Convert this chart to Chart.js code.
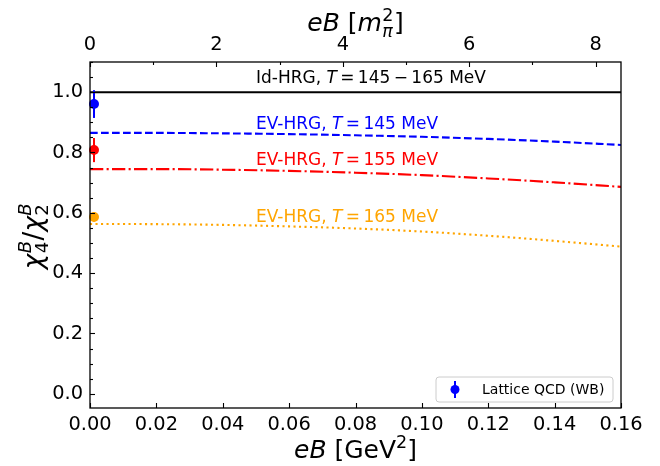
<!DOCTYPE html>
<html><head><meta charset="utf-8">
<script src="https://cdn.jsdelivr.net/npm/chart.js@4/dist/chart.umd.min.js"></script>
<style>html,body{margin:0;padding:0;background:#fff;}#wrap{width:660px;height:466px;}</style>
</head><body><div id="wrap"><canvas id="c" width="660" height="466"></canvas></div>
<script>
// ---- data ----
const eB = [0, 0.02, 0.04, 0.06, 0.08, 0.10, 0.12, 0.14, 0.16];          // GeV^2
const idHRG  = [1, 1, 1, 1, 1, 1, 1, 1, 1];
const evT145 = [0.865, 0.865, 0.8635, 0.861, 0.857, 0.852, 0.845, 0.836, 0.825];
const evT155 = [0.745, 0.745, 0.743, 0.739, 0.733, 0.725, 0.714, 0.701, 0.686];
const evT165 = [0.563, 0.5625, 0.560, 0.555, 0.548, 0.538, 0.524, 0.507, 0.488];
const latticeEB    = [0.0012, 0.0012, 0.0012];
const latticeRatio = [0.9605, 0.808, 0.586];
const latticeErr   = [0.046, 0.040, 0.015];
const mPi2 = 0.138 * 0.138;   // GeV^2, for the top axis
const seriesLabels = ['Id-HRG', 'EV-HRG', 'EV-HRG', 'EV-HRG'];
const seriesTemps  = ['145\u2009\u2212\u2009165', '145', '155', '165'];
const latticeLabel = 'Lattice QCD (WB)';

// ---- styles ----
const FAM = '"DejaVu Sans"';
const latticeColors = ['#0000ff', '#ff0000', '#ffa500'];
const lineColors = ['#000000', '#0000ff', '#ff0000', '#ffa500'];

const pts = (xs, ys) => xs.map((x, i) => ({x, y: ys[i]}));

function segFont(size, it) { return (it ? 'italic ' : '') + size + 'px ' + FAM; }
function segWidth(ctx, s, size) {
  if (s.t !== undefined) { ctx.font = segFont(size * (s.k || 1), s.it); return ctx.measureText(s.t).width; }
  const ss = size * 0.7; let w = 0;
  if (s.sup) { ctx.font = segFont(ss, s.supIt); w = Math.max(w, ctx.measureText(s.sup).width); }
  if (s.sub) { ctx.font = segFont(ss, s.subIt); w = Math.max(w, ctx.measureText(s.sub).width); }
  return w + 1;
}
function drawRich(ctx, segs, x, y, size, color, align) {
  let total = 0; segs.forEach(s => total += segWidth(ctx, s, size));
  let cx = align === 'center' ? x - total / 2 : x;
  ctx.fillStyle = color; ctx.textBaseline = 'alphabetic'; ctx.textAlign = 'left';
  segs.forEach(s => {
    const w = segWidth(ctx, s, size);
    if (s.t !== undefined) {
      ctx.font = segFont(size * (s.k || 1), s.it);
      ctx.fillText(s.t, cx, y + (s.dy || 0) * size);
    } else {
      const ss = size * 0.7;
      if (s.sup) { ctx.font = segFont(ss, s.supIt); ctx.fillText(s.sup, cx + 0.5, y - 0.42 * size); }
      if (s.sub) { ctx.font = segFont(ss, s.subIt); ctx.fillText(s.sub, cx + 0.5, y + 0.22 * size); }
    }
    cx += w;
  });
}

const decor = {
  id: 'decor',
  beforeDatasetDraw(chart, args) {
    if (args.index !== 0) return;
    const ctx = chart.ctx, xs = chart.scales.x, ys = chart.scales.y;
    ctx.save(); ctx.lineWidth = 2;
    latticeEB.forEach((x, i) => {
      const px = xs.getPixelForValue(x);
      ctx.strokeStyle = latticeColors[i];
      ctx.beginPath();
      ctx.moveTo(px, ys.getPixelForValue(latticeRatio[i] + latticeErr[i]));
      ctx.lineTo(px, ys.getPixelForValue(latticeRatio[i] - latticeErr[i]));
      ctx.stroke();
    });
    ctx.restore();
  },
  afterDraw(chart) {
    const ctx = chart.ctx, ca = chart.chartArea;
    const xs = chart.scales.x, ys = chart.scales.y, xt = chart.scales.x2;
    ctx.save();
    // frame
    ctx.strokeStyle = '#000'; ctx.lineWidth = 1.3;
    ctx.strokeRect(ca.left, ca.top, ca.right - ca.left, ca.bottom - ca.top);
    ctx.lineWidth = 1.1;
    const MAJ = 5, MIN = 3;
    // y ticks (inward)
    for (let k = 0; k <= 22; k++) {
      const v = k * 0.05; if (v > ys.max + 1e-9) break;
      const py = Math.round(ys.getPixelForValue(v)) + 0.5;
      const len = (k % 4 === 0) ? MAJ : MIN;
      ctx.beginPath(); ctx.moveTo(ca.left, py); ctx.lineTo(ca.left + len, py); ctx.stroke();
    }
    // bottom x ticks
    xs.ticks.forEach(t => {
      const px = Math.round(xs.getPixelForValue(t.value)) + 0.5;
      ctx.beginPath(); ctx.moveTo(px, ca.bottom); ctx.lineTo(px, ca.bottom - MAJ); ctx.stroke();
    });
    // top ticks
    for (let k = 0; k <= Math.floor(xt.max); k++) {
      const px = Math.round(xt.getPixelForValue(k)) + 0.5;
      const len = (k % 2 === 0) ? MAJ : MIN;
      ctx.beginPath(); ctx.moveTo(px, ca.top); ctx.lineTo(px, ca.top + len); ctx.stroke();
    }
    // axis titles
    drawRich(ctx, [{t:'eB', it:true}, {t:' [GeV'}, {t:'2', k:0.7, dy:-0.42}, {t:']'}],
      (ca.left + ca.right) / 2, 458, 25, '#000', 'center');
    drawRich(ctx, [{t:'eB', it:true}, {t:' ['}, {t:'m', it:true}, {sub:'\u03c0', subIt:true, sup:'2'}, {t:']'}],
      (ca.left + ca.right) / 2, 31, 25, '#000', 'center');
    ctx.save(); ctx.translate(42, 236); ctx.rotate(-Math.PI / 2);
    drawRich(ctx, [{t:'\u03c7', it:true}, {sub:'4', sup:'B', supIt:true}, {t:'/'},
                   {t:'\u03c7', it:true}, {sub:'2', sup:'B', supIt:true}], 0, 0, 26, '#000', 'center');
    ctx.restore();
    // annotations
    const annY = [1.030, 0.878, 0.758, 0.570];
    seriesLabels.forEach((lab, i) => {
      drawRich(ctx, [{t: lab + ', '}, {t:'T', it:true}, {t:'\u2009=\u2009' + seriesTemps[i] + ' MeV'}],
        xs.getPixelForValue(0.05), ys.getPixelForValue(annY[i]), 17, lineColors[i], 'left');
    });
    // legend
    const lx = 436, ly = 377, lw = 177, lh = 25;
    ctx.beginPath(); ctx.roundRect(lx, ly, lw, lh, 3);
    ctx.fillStyle = 'rgba(255,255,255,0.8)'; ctx.fill();
    ctx.strokeStyle = '#cccccc'; ctx.lineWidth = 1; ctx.stroke();
    ctx.strokeStyle = latticeColors[0]; ctx.lineWidth = 2;
    ctx.beginPath(); ctx.moveTo(455, ly + 4); ctx.lineTo(455, ly + lh - 4); ctx.stroke();
    ctx.fillStyle = latticeColors[0];
    ctx.beginPath(); ctx.arc(455, ly + lh / 2, 4.5, 0, Math.PI * 2); ctx.fill();
    ctx.fillStyle = '#000'; ctx.font = '14px ' + FAM; ctx.textBaseline = 'middle';
    ctx.fillText(chart.data.datasets[0].label, 482, ly + lh / 2 + 0.5);
    ctx.restore();
  }
};

const tickFont = {family: 'DejaVu Sans', size: 19.4};
new Chart(document.getElementById('c'), {
  type: 'scatter',
  data: {
    datasets: [
      {label: latticeLabel, data: pts(latticeEB, latticeRatio), pointRadius: 5, pointHoverRadius: 5,
       pointBackgroundColor: latticeColors, pointBorderWidth: 0, order: 0, clip: false},
      {label: 'Id-HRG', data: pts(eB, idHRG), showLine: true, pointRadius: 0, borderColor: lineColors[0],
       borderWidth: 2, order: 4},
      {label: 'EV-HRG 145', data: pts(eB, evT145), showLine: true, pointRadius: 0, borderColor: lineColors[1],
       borderWidth: 2.1, borderDash: [7.7, 3.3], cubicInterpolationMode: 'monotone', order: 3},
      {label: 'EV-HRG 155', data: pts(eB, evT155), showLine: true, pointRadius: 0, borderColor: lineColors[2],
       borderWidth: 2.1, borderDash: [13.3, 3.3, 2.1, 3.3], cubicInterpolationMode: 'monotone', order: 2},
      {label: 'EV-HRG 165', data: pts(eB, evT165), showLine: true, pointRadius: 0, borderColor: lineColors[3],
       borderWidth: 2.1, borderDash: [2.1, 3.4], cubicInterpolationMode: 'monotone', order: 1}
    ]
  },
  options: {
    responsive: false, animation: false, devicePixelRatio: 1,
    layout: {padding: {left: 0, right: 39, top: 0, bottom: 0}},
    plugins: {legend: {display: false}, tooltip: {enabled: false}},
    scales: {
      x: {type: 'linear', position: 'bottom', min: 0, max: 0.16,
          grid: {display: false, drawTicks: false}, border: {display: false},
          ticks: {stepSize: 0.02, includeBounds: false, autoSkip: false, maxRotation: 0, padding: 5,
                  color: '#000', font: tickFont, callback: v => v.toFixed(2)},
          afterFit: s => { s.height = 58; }},
      x2: {type: 'linear', position: 'top', min: 0, max: 0.16 / mPi2,
          grid: {display: false, drawTicks: false}, border: {display: false},
          ticks: {stepSize: 2, includeBounds: false, autoSkip: false, maxRotation: 0, padding: 5,
                  color: '#000', font: tickFont, callback: v => v.toFixed(0)},
          afterFit: s => { s.height = 62; }},
      y: {type: 'linear', min: -0.047, max: 1.1,
          grid: {display: false, drawTicks: false}, border: {display: false},
          ticks: {stepSize: 0.2, includeBounds: false, padding: 7, color: '#000', font: tickFont,
                  callback: v => v.toFixed(1)},
          afterFit: s => { s.width = 90; }}
    }
  },
  plugins: [decor]
});
</script></body></html>
